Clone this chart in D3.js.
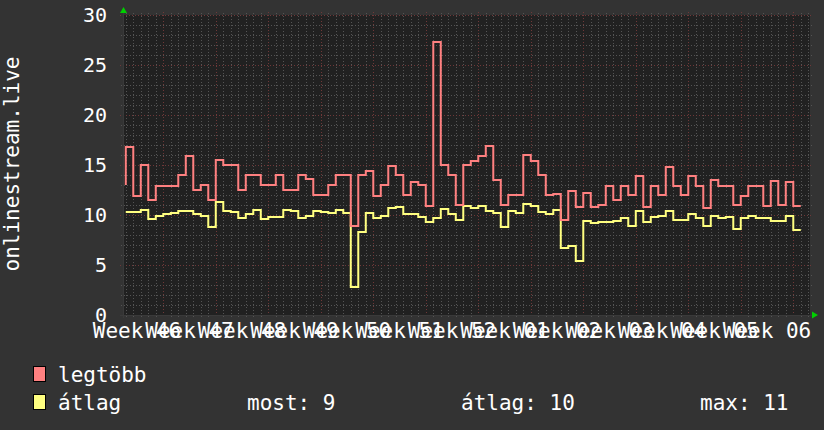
<!DOCTYPE html>
<html><head><meta charset="utf-8">
<script src="https://cdn.jsdelivr.net/npm/d3@7/dist/d3.min.js"></script>
<style>html,body{margin:0;padding:0;background:#333333;}svg{display:block;}</style>
</head><body>
<svg id="chart" width="824" height="430"></svg>
<script>
// ---- data ----
const weekLabels = ["Week 46","Week 47","Week 48","Week 49","Week 50","Week 51","Week 52","Week 01","Week 02","Week 03","Week 04","Week 05","Week 06"];
const yTicks = [0,5,10,15,20,25,30];
const legtobbPrev = 13;
const legtobb = [16.8,11.9,15.0,11.5,12.9,12.9,12.9,14.0,15.9,12.5,13.0,11.5,15.5,15.0,15.0,12.5,14.0,14.0,13.0,13.0,14.0,12.5,12.5,14.0,13.6,12.0,12.0,13.0,
  14.0,14.0,8.9,14.0,14.4,11.9,13.0,14.9,14.0,12.0,13.3,13.0,10.9,27.3,15.0,14.0,11.0,15.0,15.4,15.9,16.9,13.5,11.0,12.0,12.0,16.0,15.4,14.0,12.0,12.1,9.5,
  12.4,10.8,12.2,10.8,11.0,12.9,11.5,12.9,12.0,13.9,10.8,12.9,12.0,14.8,12.9,12.0,13.9,12.9,10.7,13.5,12.9,12.9,11.0,11.9,12.9,12.9,10.9,13.4,11.0,13.3,10.9];
const atlag = [10.3,10.3,10.5,9.6,9.9,10.1,10.2,10.4,10.4,10.1,9.9,8.8,11.3,10.4,10.3,9.7,10.1,10.5,9.6,9.8,9.8,10.5,10.4,9.7,9.9,10.4,10.3,10.2,
  10.5,10.2,2.8,8.3,10.2,9.7,9.9,10.7,10.8,10.1,10.1,9.8,9.3,9.7,10.6,10.1,9.5,10.9,10.7,10.9,10.4,10.2,8.8,10.4,10.2,11.1,10.9,10.3,10.1,10.5,6.7,
  6.9,5.4,9.4,9.2,9.3,9.3,9.4,9.7,8.9,10.4,9.3,9.8,9.9,10.4,9.5,9.5,10.1,9.7,8.9,9.9,9.7,9.8,8.6,9.7,9.9,9.7,9.7,9.4,9.4,9.9,8.5];
const legendItems = [{name:"legtöbb", color:"#ff8080"},{name:"átlag", color:"#ffff80"}];
const statLabels = ["most: 9","átlag: 10","max: 11"];
const yTitle = "onlinestream.live";

// ---- layout ----
const L = 123, R = 810, T = 15, B = 315;
const font = "'DejaVu Sans Mono', monospace";
const svg = d3.select("#chart");
const x = d3.scaleLinear().domain([-5.37, 86.23]).range([L, R]);
const y = d3.scaleLinear().domain([0, 30]).range([B, T]);

svg.append("rect").attr("x",0).attr("y",0).attr("width",824).attr("height",430).attr("fill","#333333");
svg.append("rect").attr("x",L).attr("y",T).attr("width",R-L).attr("height",B-T).attr("fill","#212121");

// grid
const g = svg.append("g");
const minorDays = d3.range(-5, 87);
g.selectAll("line.vmin").data(minorDays.filter(d=>d%7!==0)).join("line")
  .attr("x1",d=>Math.round(x(d))+0.5).attr("x2",d=>Math.round(x(d))+0.5).attr("y1",T-2).attr("y2",B+2)
  .attr("stroke","#545454").attr("stroke-dasharray","1,2").attr("stroke-width",1);
const yMinor = d3.range(1,31).filter(v=>v%5!==0);
g.selectAll("line.hmin").data(yMinor).join("line")
  .attr("x1",L-2).attr("x2",R+2).attr("y1",d=>Math.round(y(d))+0.5).attr("y2",d=>Math.round(y(d))+0.5)
  .attr("stroke","#545454").attr("stroke-dasharray","1,2");
g.selectAll("line.vmaj").data(d3.range(0, 85, 7)).join("line")
  .attr("x1",d=>Math.round(x(d))+0.5).attr("x2",d=>Math.round(x(d))+0.5).attr("y1",T-3).attr("y2",B+3)
  .attr("stroke","#6e3838").attr("stroke-dasharray","1,2");
g.selectAll("line.hmaj").data(yTicks.filter(v=>v>0)).join("line")
  .attr("x1",L-3).attr("x2",R+3).attr("y1",d=>Math.round(y(d))+0.5).attr("y2",d=>Math.round(y(d))+0.5)
  .attr("stroke","#6e3838").attr("stroke-dasharray","1,2");

// axes lines
svg.append("line").attr("x1",L-3).attr("x2",R+3).attr("y1",B+0.5).attr("y2",B+0.5).attr("stroke","#3a3a3a");
svg.append("line").attr("x1",L+0.5).attr("x2",L+0.5).attr("y1",T-3).attr("y2",B+3).attr("stroke","#3a3a3a");
// arrows
svg.append("path").attr("d",`M${L-3},${T-2} L${L+4},${T-2} L${L+0.5},${T-8} Z`).attr("fill","#00d000");
svg.append("path").attr("d",`M${R+2},${B-3.5} L${R+2},${B+3.5} L${R+8},${B} Z`).attr("fill","#00d000");

// y tick labels
svg.selectAll("text.yt").data(yTicks).join("text")
  .attr("x",107).attr("y",d=>y(d)).attr("dy","0.36em").attr("text-anchor","end")
  .attr("font-family",font).attr("font-size",20).attr("fill","#ffffff").text(d=>d);

// x labels
svg.selectAll("text.xt").data(weekLabels).join("text")
  .attr("x",(d,i)=>x(i*7-3.5)).attr("y",338).attr("text-anchor","middle")
  .attr("font-family",font).attr("font-size",21).attr("fill","#ffffff").text(d=>d);

// y title
svg.append("text").attr("transform","translate(19,164) rotate(-90)").attr("text-anchor","middle")
  .attr("font-family",font).attr("font-size",21).attr("fill","#ffffff").text(yTitle);

// series
function series(vals, prev){
  const pts = [{t:-5, v:prev}];
  vals.forEach((v,i)=>pts.push({t:-5+i+1, v:v}));
  return pts;
}
const line = d3.line().x(d=>x(d.t)).y(d=>y(d.v)).curve(d3.curveStepBefore);
const plot = svg.append("g");
plot.append("path").datum(series(atlag, atlag[0])).attr("d",line).attr("fill","none")
  .attr("stroke","#ffff80").attr("stroke-width",2);
plot.append("path").datum(series(legtobb, legtobbPrev)).attr("d",line).attr("fill","none")
  .attr("stroke","#ff8080").attr("stroke-width",2);

// legend
const lg = svg.append("g");
legendItems.forEach((it,i)=>{
  const yy = 374 + i*28;
  lg.append("rect").attr("x",33.5).attr("y",yy-7.5).attr("width",12).attr("height",15)
    .attr("fill",it.color).attr("stroke","#000").attr("stroke-width",1);
  lg.append("text").attr("x",58).attr("y",yy+8).attr("font-family",font).attr("font-size",21)
    .attr("fill","#ffffff").text(it.name);
});
const statX = [247, 461, 700];
statLabels.forEach((s,i)=>{
  lg.append("text").attr("x",statX[i]).attr("y",410).attr("font-family",font).attr("font-size",21)
    .attr("fill","#ffffff").text(s);
});
</script>
</body></html>
